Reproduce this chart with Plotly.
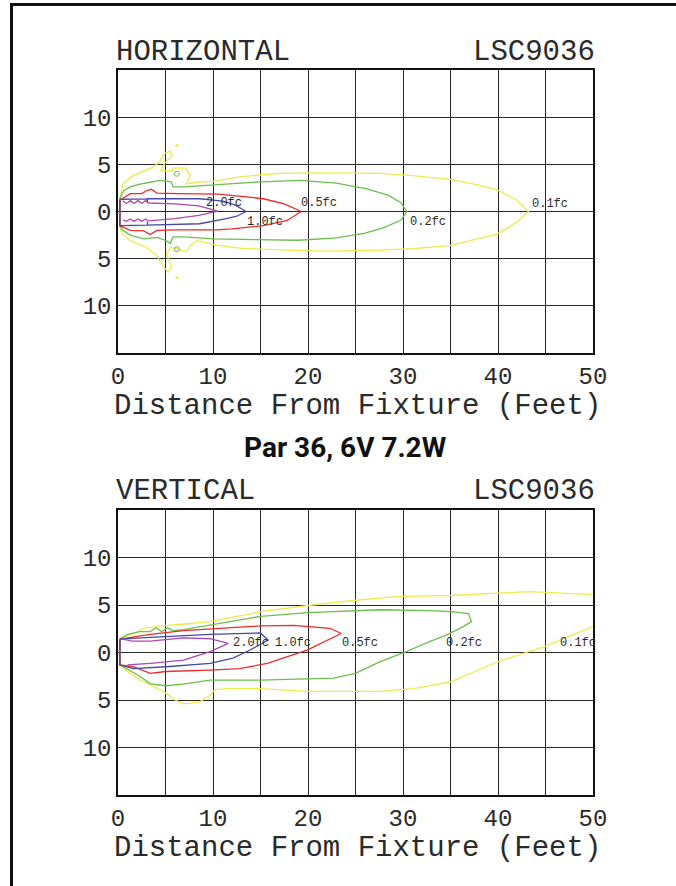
import plotly.graph_objects as go

# ---------------- DATA ----------------
X_TICK_VALS = [0, 5, 10, 15, 20, 25, 30, 35, 40, 45, 50]
X_TICK_TEXT = ["0", "", "10", "", "20", "", "30", "", "40", "", "50"]
Y_TICK_VALS = [-15, -10, -5, 0, 5, 10, 15]
Y_TICK_TEXT = ["", "10", "5", "0", "5", "10", ""]

LEVELS = ["0.1fc", "0.2fc", "0.5fc", "1.0fc", "2.0fc"]
COLORS = ["#ecec4a", "#6cbe4e", "#ee2a2a", "#4848a8", "#ad48ad"]

# ---- HORIZONTAL (top chart) isofootcandle curves ----
H_01_X = [0.2, 0.5, 1.6, 3.7, 4.4, 4.8, 5.5, 5.7, 4.9, 4.5, 5.7, 5.8, 7.1, 7.6, 7.2, 8.3, 10.0, 13.0, 17.0, 22.0,
          27.6, 31.0, 35.0, 38.0, 39.9, 42.0, 43.2, 42.0, 39.9, 37.0, 35.0, 31.0, 27.6, 22.0, 17.8, 13.0, 10.5,
          8.3, 7.6, 7.2, 6.7, 5.5, 5.1, 5.65, 5.3, 4.8, 4.1, 3.0, 1.3, 0.5, 0.2]
H_01_Y = [1.35, 2.9, 3.8, 4.7, 5.3, 6.1, 6.4, 5.9, 5.1, 4.3, 4.3, 4.6, 4.6, 3.9, 2.9, 3.1, 3.2, 3.7, 4.05, 4.1,
          4.05, 3.8, 3.4, 2.8, 2.3, 1.2, 0.0, -1.1, -2.4, -3.1, -3.6, -3.95, -4.1, -4.2, -4.1, -3.9, -3.6,
          -3.1, -3.6, -4.3, -4.1, -3.8, -4.5, -5.9, -6.4, -5.9, -4.7, -3.8, -3.1, -2.4, -1.7]
H_02_X = [0.2, 0.6, 1.3, 2.3, 3.4, 4.4, 5.6, 5.8, 7.0, 10.0, 15.0, 19.2, 23.0, 26.2, 28.5, 29.8, 30.4, 29.8,
          28.0, 26.0, 23.0, 19.0, 15.0, 10.0, 7.0, 5.8, 5.5, 5.1, 4.1, 2.7, 1.3, 0.5, 0.2]
H_02_Y = [1.4, 2.2, 2.6, 2.9, 3.1, 3.3, 3.15, 2.6, 2.6, 2.8, 3.15, 3.3, 3.0, 2.4, 1.7, 0.9, 0.0, -0.9,
          -1.7, -2.3, -2.8, -3.05, -3.0, -2.9, -2.7, -2.7, -3.4, -3.1, -2.75, -2.9, -2.5, -2.0, -1.5]
H_05_X = [0.2, 1.3, 2.5, 3.0, 3.5, 4.1, 6.2, 10.5, 13.0, 15.3, 17.5, 19.3, 17.8, 15.3, 12.0, 10.4, 6.2, 4.1,
          3.4, 2.7, 1.3, 0.2]
H_05_Y = [1.2, 1.9, 1.9, 2.2, 2.35, 1.95, 1.9, 1.85, 1.6, 1.35, 0.8, 0.0, -0.95, -1.5, -1.85, -1.95, -1.95,
          -2.0, -2.45, -2.05, -2.0, -1.5]
H_10_X = [0.2, 3.1, 3.1, 3.1, 8.6, 11.0, 12.3, 13.5, 12.5, 11.4, 8.6, 5.0, 3.1, 3.1, 3.1, 0.2]
H_10_Y = [1.3, 1.35, 0.95, 1.35, 1.35, 1.1, 0.7, 0.0, -0.5, -0.75, -1.3, -1.45, -1.45, -1.05, -1.45, -1.5]
H_20_X = [0.5, 0.9, 1.3, 1.7, 2.1, 2.5, 2.9, 3.2, 6.0, 8.5, 10.5, 8.5, 6.0, 3.2, 2.9, 2.5, 2.1, 1.7, 1.3,
          0.9, 0.5]
H_20_Y = [1.15, 0.85, 1.15, 0.85, 1.15, 0.85, 1.15, 0.9, 0.8, 0.6, 0.05, -0.4, -0.75, -1.0, -0.8, -1.05,
          -0.8, -1.05, -0.8, -1.05, -0.9]
H_SPECK_YELLOW_X = [6.2, 6.2]
H_SPECK_YELLOW_Y = [7.0, -7.0]
H_SPECK_GREEN_X = [6.2, 6.2]
H_SPECK_GREEN_Y = [4.0, -4.0]
H_LABEL_X = [43.4, 30.5, 19.0, 13.4, 9.0]
H_LABEL_Y = [0.8, -1.1, 0.9, -1.1, 0.9]

# ---- VERTICAL (bottom chart) isofootcandle curves ----
V_01_X = [52.0, 49.9, 46.0, 43.4, 39.9, 35.0, 29.7, 25.0, 20.0, 15.0, 12.0, 9.7, 7.0, 4.5, 2.7, 1.5, 0.2,
          0.2, 1.0, 2.3, 3.4, 5.1, 6.0, 6.9, 8.6, 9.7, 10.2, 11.5, 15.0, 20.0, 25.0, 27.6, 31.1, 35.0, 39.9,
          44.8, 49.9, 52.0]
V_01_Y = [6.0, 6.1, 6.35, 6.4, 6.25, 6.0, 5.9, 5.5, 4.95, 4.3, 3.7, 3.25, 3.0, 2.8, 2.55, 1.9, 1.5,
          -1.3, -2.0, -2.9, -3.4, -4.3, -5.0, -5.4, -5.2, -4.5, -3.9, -3.8, -3.8, -4.1, -4.1, -4.1, -3.8,
          -3.1, -1.0, 0.6, 2.7, 3.6]
V_02_X = [0.2, 1.0, 2.3, 3.4, 4.0, 4.6, 5.2, 5.8, 6.9, 9.7, 15.0, 20.0, 27.6, 32.8, 35.0, 36.9, 37.2, 36.3,
          34.6, 32.8, 30.0, 27.6, 25.0, 22.7, 15.0, 9.7, 7.0, 5.1, 3.4, 2.3, 0.2]
V_02_Y = [1.4, 1.9, 2.2, 2.2, 2.6, 2.2, 2.6, 2.3, 2.4, 2.9, 3.8, 4.2, 4.5, 4.4, 4.3, 4.1, 3.25, 2.7,
          1.85, 1.15, -0.05, -0.97, -2.2, -2.7, -2.9, -2.9, -3.3, -3.5, -3.3, -2.5, -1.3]
V_05_X = [0.2, 1.5, 3.4, 6.9, 10.0, 15.0, 18.5, 22.3, 23.5, 22.3, 19.9, 15.7, 12.8, 9.7, 5.0, 3.4, 1.6, 0.2]
V_05_Y = [1.4, 1.6, 1.9, 2.3, 2.5, 2.8, 2.85, 2.55, 2.0, 1.4, 0.26, -1.15, -1.7, -1.85, -2.0, -2.2, -1.5, -1.3]
V_10_X = [0.2, 3.4, 9.7, 13.0, 15.0, 15.8, 13.9, 12.1, 9.7, 5.1, 1.6, 0.2]
V_10_Y = [1.4, 1.6, 1.9, 2.0, 2.05, 1.3, 0.26, -0.6, -1.15, -1.5, -1.7, -1.3]
V_20_X = [0.5, 1.5, 3.4, 6.9, 9.7, 11.6, 9.7, 6.9, 3.4, 1.0]
V_20_Y = [1.4, 1.2, 1.2, 1.55, 1.45, 0.97, 0.1, -0.8, -1.15, -1.3]
V_LABEL_X = [46.3, 34.3, 23.4, 16.3, 11.9]
V_LABEL_Y = [1.0, 1.0, 1.0, 1.0, 1.0]

# ---------------- LAYOUT HELPERS ----------------
W, H = 676, 886
def fx(p):
    return p / W
def fy(p):
    return 1 - p / H

TXT = "Liberation Mono"
TXT_COLOR = "#2a2a2a"

fig = go.Figure()

def add_curves(curves, closed_flags, xa, ya):
    for (xs, ys), col, closed in zip(curves, COLORS, closed_flags):
        xx, yy = list(xs), list(ys)
        if closed:
            xx.append(xs[0]); yy.append(ys[0])
        fig.add_trace(go.Scatter(x=xx, y=yy, mode="lines", line=dict(color=col, width=1.3),
                                 xaxis=xa, yaxis=ya, hoverinfo="skip", showlegend=False))

add_curves([(H_01_X, H_01_Y), (H_02_X, H_02_Y), (H_05_X, H_05_Y), (H_10_X, H_10_Y), (H_20_X, H_20_Y)],
           [True, True, True, True, False], "x", "y")
fig.add_trace(go.Scatter(x=H_SPECK_YELLOW_X, y=H_SPECK_YELLOW_Y, mode="markers",
                         marker=dict(color=COLORS[0], size=3), xaxis="x", yaxis="y",
                         hoverinfo="skip", showlegend=False))
fig.add_trace(go.Scatter(x=H_SPECK_GREEN_X, y=H_SPECK_GREEN_Y, mode="markers",
                         marker=dict(color=COLORS[1], size=5, symbol="circle-open", line=dict(width=1)),
                         xaxis="x", yaxis="y", hoverinfo="skip", showlegend=False))
add_curves([(V_01_X, V_01_Y), (V_02_X, V_02_Y), (V_05_X, V_05_Y), (V_10_X, V_10_Y), (V_20_X, V_20_Y)],
           [False, True, True, True, False], "x2", "y2")

annotations = []
for lx, ly, t in zip(H_LABEL_X, H_LABEL_Y, LEVELS):
    annotations.append(dict(x=lx, y=ly, xref="x", yref="y", text=t, showarrow=False,
                            xanchor="left", yanchor="middle",
                            font=dict(family=TXT, size=12, color=TXT_COLOR)))
for lx, ly, t in zip(V_LABEL_X, V_LABEL_Y, LEVELS):
    annotations.append(dict(x=lx, y=ly, xref="x2", yref="y2", text=t, showarrow=False,
                            xanchor="left", yanchor="middle",
                            font=dict(family=TXT, size=12, color=TXT_COLOR)))

big = dict(family=TXT, size=29, color=TXT_COLOR)
def paper_text(text, px, py, xanchor, font):
    annotations.append(dict(x=fx(px), y=fy(py), xref="paper", yref="paper", text=text,
                            showarrow=False, xanchor=xanchor, yanchor="middle", font=font))

paper_text("HORIZONTAL", 114, 52, "left", big)
paper_text("LSC9036", 597, 52, "right", big)
paper_text("Distance From Fixture (Feet)", 357, 406, "center", big)
paper_text("<b>Par 36, 6V 7.2W</b>", 345, 447, "center",
           dict(family="Roboto", size=28, color="#111"))
paper_text("VERTICAL", 114, 492, "left", big)
paper_text("LSC9036", 597, 492, "right", big)
paper_text("Distance From Fixture (Feet)", 357, 848, "center", big)

common_x = dict(range=[0, 50], tickvals=X_TICK_VALS, ticktext=X_TICK_TEXT, showgrid=True,
                gridcolor="#262626", gridwidth=1.3, zeroline=False, showline=True, mirror=True,
                linecolor="#111", linewidth=1.5, ticks="", 
                tickfont=dict(family=TXT, size=24, color=TXT_COLOR), fixedrange=True,
                automargin=False, domain=[fx(118), fx(593)])
common_y = dict(range=[-15, 15], tickvals=Y_TICK_VALS, ticktext=Y_TICK_TEXT, showgrid=True,
                gridcolor="#262626", gridwidth=1.3, zeroline=False, showline=True, mirror=True,
                linecolor="#111", linewidth=1.5, ticks="",
                tickfont=dict(family=TXT, size=24, color=TXT_COLOR), fixedrange=True,
                automargin=False)

fig.update_layout(
    width=W, height=H,
    margin=dict(l=0, r=0, t=0, b=0, pad=0),
    paper_bgcolor="white", plot_bgcolor="white",
    xaxis=dict(common_x, anchor="y"),
    yaxis=dict(common_y, anchor="x", domain=[fy(353), fy(70)]),
    xaxis2=dict(common_x, anchor="y2"),
    yaxis2=dict(common_y, anchor="x2", domain=[fy(795), fy(510)]),
    annotations=annotations,
    shapes=[
        dict(type="line", xref="paper", yref="paper", x0=fx(11.5), x1=fx(11.5), y0=fy(3), y1=fy(H + 5),
             line=dict(color="#111", width=3)),
        dict(type="line", xref="paper", yref="paper", x0=fx(10), x1=fx(W + 5), y0=fy(4.5), y1=fy(4.5),
             line=dict(color="#111", width=3)),
    ],
)

fig.write_html("out.html", config={"displayModeBar": False},
               post_script="document.body.style.margin='0';document.body.style.overflow='hidden';")
